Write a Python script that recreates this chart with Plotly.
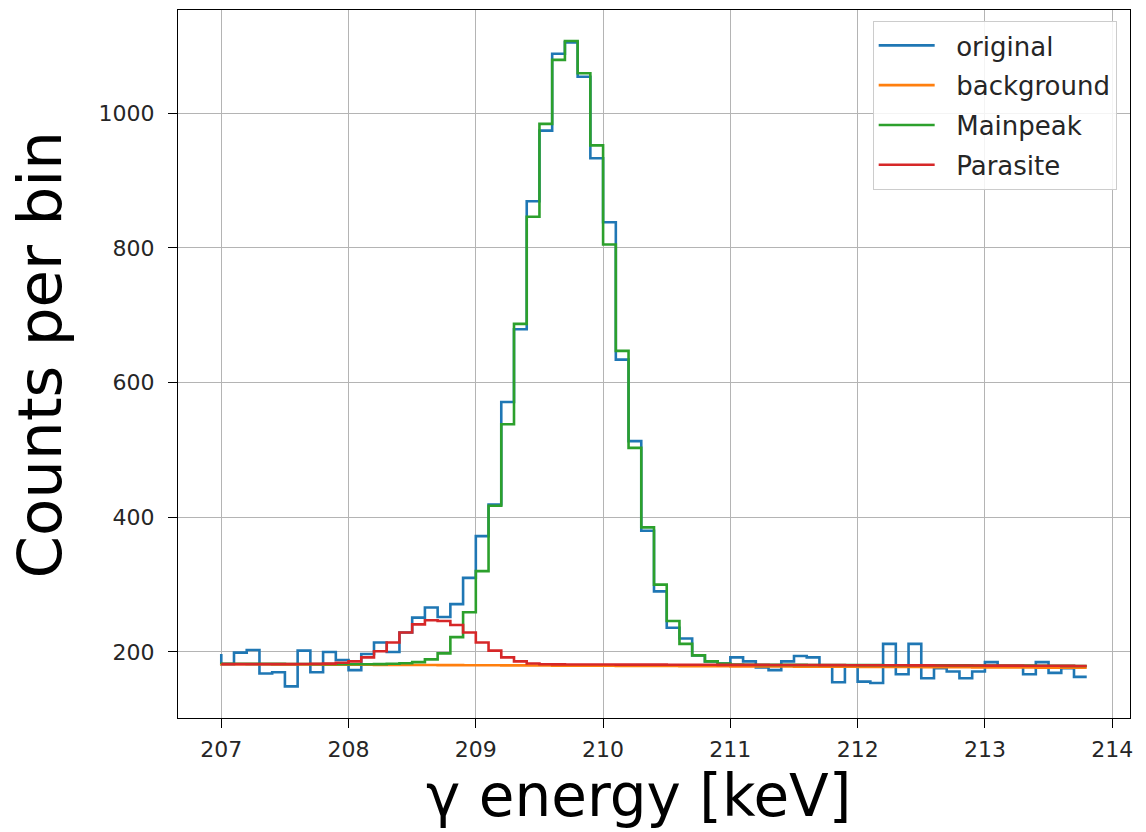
import numpy as np
import plotly.graph_objects as go

# Energy grid: 0.1 keV bins from 207.0 to 213.8 keV (69 step points, matplotlib "pre" style)
E_START = 207.0
E_STEP = 0.1
N_POINTS = 69

# Measured spectrum (counts per bin); first entry is the starting point at 207.0 keV
original = [
    197,
    182, 199, 203, 168, 170, 149, 202, 170, 200, 188,
    173, 197, 214, 200, 229, 251, 266, 252, 271, 310,
    372, 419, 571, 679, 869, 974, 1088, 1105, 1054, 933,
    838, 634, 513, 380, 290, 236, 220, 195, 186, 183,
    192, 186, 177, 173, 186, 194, 192, 180, 155, 180,
    156, 154, 212, 167, 212, 161, 176, 171, 161, 171,
    185, 178, 178, 167, 185, 169, 176, 163,
]

# Fitted linear background
background = [
    182.0, 181.9, 181.8, 181.8, 181.7, 181.6, 181.5, 181.4, 181.4, 181.3, 181.2,
    181.1, 181.0, 180.9, 180.9, 180.8, 180.7, 180.6, 180.5, 180.5, 180.4,
    180.3, 180.2, 180.1, 180.1, 180.0, 179.9, 179.8, 179.7, 179.7, 179.6,
    179.5, 179.4, 179.3, 179.3, 179.2, 179.1, 179.0, 178.9, 178.9, 178.8,
    178.7, 178.6, 178.5, 178.5, 178.4, 178.3, 178.2, 178.1, 178.1, 178.0,
    177.9, 177.8, 177.7, 177.7, 177.6, 177.5, 177.4, 177.3, 177.3, 177.2,
    177.1, 177.0, 176.9, 176.9, 176.8, 176.7, 176.6, 176.5,
]

# Background + main peak component
mainpeak = [
    182.5,
    182.6, 182.5, 182.4, 182.4, 182.3, 182.2, 182.1, 182.0, 182.0, 181.9,
    181.9, 181.9, 182.0, 182.5, 183.3,
    185, 189, 198, 222, 259, 320, 417, 538, 687, 846,
    984, 1079, 1107, 1059, 952, 805, 647, 503, 385, 300,
    246, 212, 195, 186, 183, 181.5,
    181.0, 180.9, 180.9, 180.8, 180.8, 180.7, 180.7, 180.6, 180.6, 180.5,
    180.5, 180.4, 180.4, 180.3, 180.3, 180.2, 180.1, 180.1, 180.0, 180.0,
    179.9, 179.8, 179.7, 179.6, 179.5, 179.4, 179.3,
]

# Background + parasite component
parasite = [
    182.0,
    182.0, 182.0, 182.0, 182.0, 182.0, 182.0, 182.1, 182.3, 182.7, 184,
    186, 192, 201, 214, 229, 241, 247, 246, 240, 229,
    214, 202, 192, 186, 183, 181.8,
    181.6, 181.5, 181.5, 181.4, 181.4, 181.3, 181.3, 181.2, 181.2, 181.1,
    181.1, 181.0, 181.0, 180.9, 180.9, 180.8, 180.8, 180.7, 180.7, 180.6,
    180.6, 180.5, 180.5, 180.4, 180.4, 180.3, 180.3, 180.2, 180.1, 180.1,
    180.0, 180.0, 179.9, 179.9, 179.8, 179.7, 179.7, 179.6, 179.5, 179.5,
    179.4, 179.3,
]

series = [
    ("original", original, "#1f77b4"),
    ("background", background, "#ff7f0e"),
    ("Mainpeak", mainpeak, "#2ca02c"),
    ("Parasite", parasite, "#d62728"),
]
for name, vals, _ in series:
    assert len(vals) == N_POINTS, (name, len(vals))

energy = np.round(E_START + E_STEP * np.arange(N_POINTS), 1)

x_ticks = [207, 208, 209, 210, 211, 212, 213, 214]
y_ticks = [200, 400, 600, 800, 1000]

FONT = "DejaVu Sans"
PAD = "\u00a0\u00a0"  # gap between legend line sample and label

fig = go.Figure()
for name, vals, color in series:
    fig.add_trace(go.Scatter(
        x=energy, y=vals, name=PAD + name, mode="lines",
        line=dict(color=color, width=2.6, shape="vh"),
        legendgroup=name,
    ))

axis_common = dict(
    showline=True, linecolor="black", linewidth=1.3, mirror=True,
    showgrid=True, gridcolor="#b4b4b4", gridwidth=1.4,
    ticks="outside", ticklen=9, tickwidth=1.3, tickcolor="black",
    tickfont=dict(family=FONT, size=22, color="#262626"),
    zeroline=False,
)

fig.update_layout(
    width=1146, height=832,
    margin=dict(l=178, r=16, t=10, b=114),
    paper_bgcolor="white", plot_bgcolor="white",
    font=dict(family=FONT),
    xaxis=dict(range=[206.66, 214.14], tickvals=x_ticks, ticklabelstandoff=2, **axis_common),
    yaxis=dict(range=[102, 1153], tickvals=y_ticks, ticklabelstandoff=9, **axis_common),
    legend=dict(
        x=0.986, y=0.9845, xanchor="right", yanchor="top",
        bgcolor="rgba(255,255,255,0.85)", bordercolor="#cccccc", borderwidth=1,
        font=dict(family=FONT, size=26, color="#262626"),
        traceorder="grouped", tracegroupgap=3, itemwidth=56,
    ),
    showlegend=True,
)

# Axis labels
fig.add_annotation(
    text="γ energy [keV]", xref="paper", yref="paper",
    x=0.4832, y=-0.1596, xanchor="center", yanchor="bottom", showarrow=False,
    borderpad=0, font=dict(family=FONT, size=58, color="black"),
)
fig.add_annotation(
    text="Counts per bin", xref="paper", yref="paper", textangle=-90,
    x=-0.1465, y=0.5127, xanchor="center", yanchor="middle", showarrow=False,
    font=dict(family=FONT, size=61, color="black"),
)

fig.write_html("out.html")
